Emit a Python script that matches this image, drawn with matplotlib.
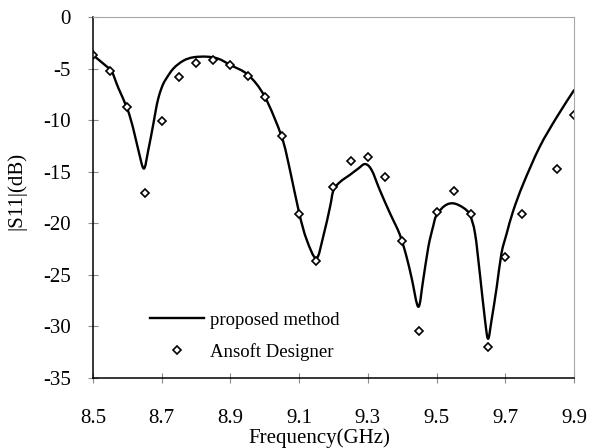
import numpy as np
import matplotlib
matplotlib.use('Agg')
import matplotlib.pyplot as plt
from matplotlib.path import Path
from matplotlib.patches import PathPatch

plt.rcParams['font.family'] = ['Liberation Serif', 'DejaVu Serif']
plt.rcParams['axes.unicode_minus'] = False

# proposed method (GHz, dB)
freq_model = [8.500, 8.540, 8.555, 8.574, 8.600, 8.617, 8.632, 8.648, 8.661,
              8.676, 8.683, 8.690, 8.700, 8.710, 8.734, 8.763, 8.792, 8.831,
              8.865, 8.900, 8.952, 9.000, 9.049, 9.073, 9.100, 9.122, 9.150,
              9.170, 9.190, 9.200, 9.219, 9.248, 9.272, 9.292, 9.311, 9.335,
              9.364, 9.393, 9.413, 9.428, 9.447, 9.461, 9.476, 9.490, 9.500,
              9.524, 9.549, 9.578, 9.597, 9.612, 9.626, 9.641, 9.650, 9.660,
              9.675, 9.689, 9.704, 9.723, 9.752, 9.800, 9.850, 9.900]
s11_model = [-3.7, -4.8, -5.3, -6.9, -8.9, -10.8, -12.9, -14.7, -12.9,
             -10.3, -9.0, -7.9, -6.85, -6.15, -5.0, -4.24, -3.91, -3.85,
             -4.05, -4.66, -5.63, -7.73, -11.6, -14.8, -19.0, -21.6, -23.4,
             -21.3, -18.4, -16.8, -16.0, -15.3, -14.7, -14.26, -14.84, -16.8,
             -19.0, -21.1, -23.3, -25.4, -28.1, -25.5, -22.3, -20.3, -19.2,
             -18.3, -18.07, -18.5, -19.2, -21.0, -24.9, -29.4, -31.2, -29.4,
             -26.2, -22.9, -21.0, -18.8, -16.2, -12.6, -9.7, -7.1]

# Ansoft Designer simulation
freq_sim = [8.50, 8.55, 8.60, 8.65, 8.70, 8.75, 8.80, 8.85, 8.90, 8.95,
            9.00, 9.05, 9.10, 9.15, 9.20, 9.25, 9.30, 9.35, 9.40, 9.45,
            9.50, 9.55, 9.60, 9.65, 9.70, 9.75, 9.85, 9.90]
s11_sim = [-3.7, -5.2, -8.7, -17.1, -10.1, -5.8, -4.5, -4.2, -4.7, -5.7,
           -7.8, -11.5, -19.1, -23.7, -16.5, -14.0, -13.6, -15.5, -21.7, -30.4,
           -18.9, -16.9, -19.1, -32.0, -23.3, -19.1, -14.7, -9.5]

xticks = [8.5, 8.7, 8.9, 9.1, 9.3, 9.5, 9.7, 9.9]
yticks = [0, -5, -10, -15, -20, -25, -30, -35]


def smooth_path(x, y):
    # Catmull-Rom curve through the points, written as cubic Bezier segments
    p = np.column_stack([x, y]).astype(float)
    ext = np.vstack([p[0], p, p[-1]])
    verts = [p[0]]
    codes = [Path.MOVETO]
    for i in range(len(p) - 1):
        p0, p1, p2, p3 = ext[i], ext[i + 1], ext[i + 2], ext[i + 3]
        verts += [p1 + (p2 - p0) / 6, p2 - (p3 - p1) / 6, p2]
        codes += [Path.CURVE4] * 3
    return Path(verts, codes)


fig = plt.figure(figsize=(5.9, 4.48), dpi=100)
ax = fig.add_axes([0.1576, 0.1563, 0.8153, 0.8058])

ax.add_patch(PathPatch(smooth_path(freq_model, s11_model), fill=False,
                       edgecolor='black', linewidth=1.7, capstyle='round',
                       joinstyle='round'))
line_proxy, = ax.plot([], [], color='black', linewidth=1.7)
pts, = ax.plot(freq_sim, s11_sim, linestyle='none', marker='D',
               markersize=3.8, markerfacecolor='white',
               markeredgecolor='black', markeredgewidth=1.2)

ax.set_xlim(8.5, 9.9)
ax.set_ylim(-35, 0)
ax.set_xticks(xticks)
ax.set_xticklabels([f'{v:.1f}' for v in xticks])
ax.set_yticks(yticks)
ax.set_yticklabels([str(v) for v in yticks])

for side in ['left', 'bottom']:
    ax.spines[side].set_color('black')
    ax.spines[side].set_linewidth(1.1)
for side in ['top', 'right']:
    ax.spines[side].set_color('#a6a6a6')
    ax.spines[side].set_linewidth(0.8)

ax.tick_params(direction='inout', length=7.5, width=0.8, color='#8c8c8c',
               labelsize=15)
ax.tick_params(axis='y', pad=12.3)
ax.tick_params(axis='x', pad=18.6)

ax.set_xlabel('Frequency(GHz)', fontsize=15, va='top')
ax.xaxis.set_label_coords(0.47, -0.1385)
ax.set_ylabel('|S11|(dB)', fontsize=15)
ax.yaxis.set_label_coords(-0.139, 0.519)

ax.legend([line_proxy, pts], ['proposed method', 'Ansoft Designer'],
          loc='center left', bbox_to_anchor=(0.1185, 0.116), frameon=False,
          fontsize=13.5, handlelength=2.9, handletextpad=0.3,
          labelspacing=0.75, borderpad=0, borderaxespad=0, numpoints=1)

fig.savefig('out.png', dpi=100)
